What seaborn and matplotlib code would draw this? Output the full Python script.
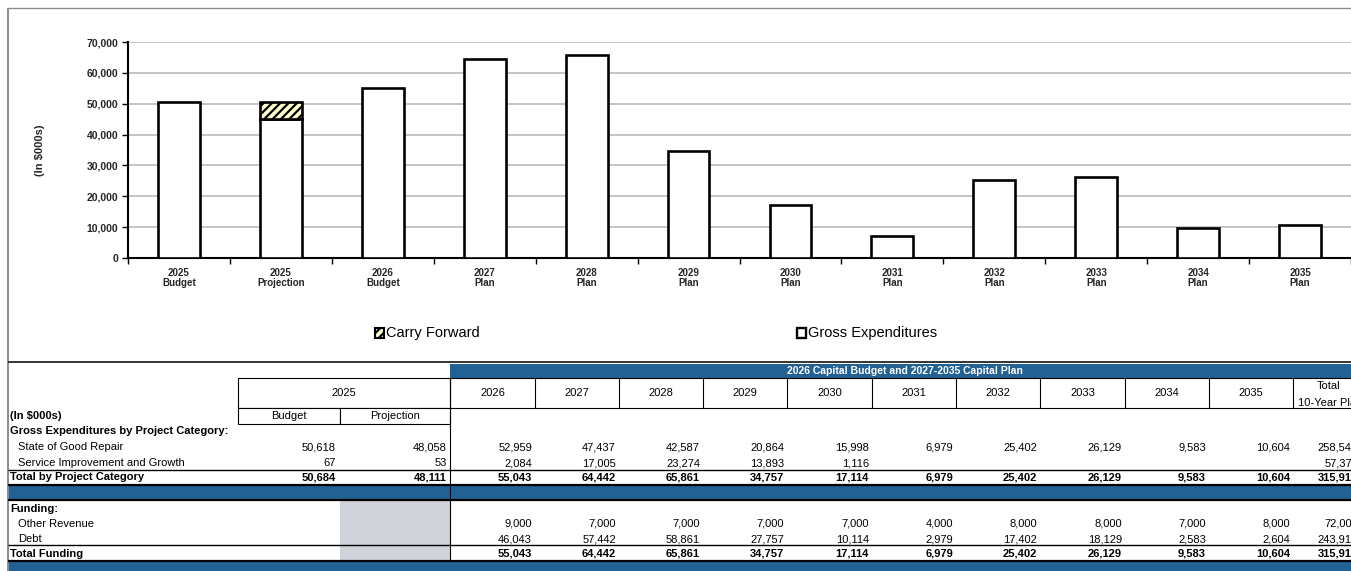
import matplotlib

matplotlib.use("Agg")
import matplotlib.pyplot as plt
import numpy as np
import pandas as pd
import seaborn as sns
from matplotlib.patches import Rectangle
from matplotlib.ticker import FuncFormatter

# chart data ($000s)
periods = ["2025\nBudget", "2025\nProjection", "2026\nBudget", "2027\nPlan", "2028\nPlan",
           "2029\nPlan", "2030\nPlan", "2031\nPlan", "2032\nPlan", "2033\nPlan",
           "2034\nPlan", "2035\nPlan"]
gross_expenditures = [50684, 45200, 55043, 64442, 65861, 34757, 17114, 6979, 25402, 26129, 9583, 10604]
carry_forward = [0, 5484, 0, 0, 0, 0, 0, 0, 0, 0, 0, 0]

# table data ($000s)
plan_years = ["2026", "2027", "2028", "2029", "2030", "2031", "2032", "2033", "2034", "2035"]
sogr_2025 = [50618, 48058]
sig_2025 = [67, 53]
total_2025 = [50684, 48111]
sogr_plan = [52959, 47437, 42587, 20864, 15998, 6979, 25402, 26129, 9583, 10604, 258542]
sig_plan = [2084, 17005, 23274, 13893, 1116, None, None, None, None, None, 57372]
total_plan = [55043, 64442, 65861, 34757, 17114, 6979, 25402, 26129, 9583, 10604, 315914]
other_revenue = [9000, 7000, 7000, 7000, 7000, 4000, 8000, 8000, 7000, 8000, 72000]
debt = [46043, 57442, 58861, 27757, 10114, 2979, 17402, 18129, 2583, 2604, 243914]
total_funding = [55043, 64442, 65861, 34757, 17114, 6979, 25402, 26129, 9583, 10604, 315914]

sns.set_theme(style="white")
plt.rcParams["font.family"] = ["Liberation Sans", "DejaVu Sans"]
plt.rcParams["hatch.linewidth"] = 1.6

W, H = 1351, 571
BLUE = "#226193"
fig = plt.figure(figsize=(W / 100, H / 100), dpi=100)

# overlay in pixel coords for frame, legend and table
ov = fig.add_axes([0, 0, 1, 1])
ov.set_xlim(0, W)
ov.set_ylim(H, 0)
ov.axis("off")


def hline(y, x0, x1, lw=0.8, color="black"):
    ov.plot([x0, x1], [y, y], color=color, lw=lw, solid_capstyle="butt")


def vline(x, y0, y1, lw=0.8, color="black"):
    ov.plot([x, x], [y0, y1], color=color, lw=lw, solid_capstyle="butt")


def txt(x, y, s, ha="left", bold=False, size=8, color="black"):
    ov.text(x, y, s, ha=ha, va="center", fontsize=size, color=color,
            fontweight="bold" if bold else "normal", clip_on=False)


def num(v):
    return "" if v is None else f"{v:,}"


# outer frame
hline(8, 8, W, lw=1.0, color="#8c8c8c")
vline(8, 8, H, lw=1.4, color="#8c8c8c")
hline(362, 8, W, lw=1.4, color="#333333")

# legend
ov.add_patch(Rectangle((375, 328), 9, 10, facecolor="#ffffcc", edgecolor="black", lw=1.5, hatch="////"))
txt(386, 333, "Carry Forward", size=10.5)
ov.add_patch(Rectangle((797, 328), 9, 10, facecolor="white", edgecolor="black", lw=1.7))
txt(808, 333, "Gross Expenditures", size=10.5)

# table header
ov.add_patch(Rectangle((450, 364), W - 450, 14, facecolor=BLUE, edgecolor="none"))
txt(905, 371, "2026 Capital Budget and 2027-2035 Capital Plan", ha="center", bold=True, size=7.5, color="white")
ov.add_patch(Rectangle((238, 378), 212, 30, facecolor="white", edgecolor="black", lw=0.8))
txt(344, 393, "2025", ha="center")
ov.add_patch(Rectangle((238, 408), 102, 16, facecolor="white", edgecolor="black", lw=0.8))
ov.add_patch(Rectangle((340, 408), 110, 16, facecolor="white", edgecolor="black", lw=0.8))
txt(289, 416, "Budget", ha="center")
txt(395, 416, "Projection", ha="center")

col_edges = [450, 535, 619, 703, 787, 872, 956, 1040, 1125, 1209, 1293, 1361]
hline(378, 450, W)
hline(408, 450, W)
for x in col_edges[:-1]:
    vline(x, 378, 408)
for i, yr in enumerate(plan_years):
    txt((col_edges[i] + col_edges[i + 1]) / 2, 393, yr, ha="center")
txt(1329, 386, "Total", ha="center")
txt(1330, 403, "10-Year Plan", ha="center")

# row labels
txt(10, 416, "(In $000s)", bold=True)
txt(10, 431, "Gross Expenditures by Project Category:", bold=True)
txt(18, 447, "State of Good Repair")
txt(18, 463, "Service Improvement and Growth")
txt(10, 477, "Total by Project Category", bold=True)
txt(10, 509, "Funding:", bold=True)
txt(18, 524, "Other Revenue")
txt(18, 539, "Debt")
txt(10, 554, "Total Funding", bold=True)

# 2025 values
right_2025 = [336, 447]
for j in range(2):
    txt(right_2025[j], 447, num(sogr_2025[j]), ha="right")
    txt(right_2025[j], 463, num(sig_2025[j]), ha="right")
    txt(right_2025[j], 477, num(total_2025[j]), ha="right", bold=True)

# plan values
for i in range(len(sogr_plan)):
    xr = col_edges[i + 1] - 3
    txt(xr, 447, num(sogr_plan[i]), ha="right")
    txt(xr, 463, num(sig_plan[i]), ha="right")
    txt(xr, 477, num(total_plan[i]), ha="right", bold=True)
    txt(xr, 524, num(other_revenue[i]), ha="right")
    txt(xr, 539, num(debt[i]), ha="right")
    txt(xr, 554, num(total_funding[i]), ha="right", bold=True)

# table rules and bands
hline(470, 8, W, lw=1.0)
hline(484.5, 8, W, lw=1.6)
ov.add_patch(Rectangle((8, 485.5), W - 8, 13.5, facecolor=BLUE, edgecolor="none"))
hline(499.5, 8, W, lw=1.6)
ov.add_patch(Rectangle((340, 500), 110, 60, facecolor="#d0d3da", edgecolor="none"))
hline(545, 8, W, lw=1.0)
hline(560.5, 8, W, lw=1.6)
ov.add_patch(Rectangle((8, 561.5), W - 8, 10, facecolor=BLUE, edgecolor="none"))
vline(450, 408, 560)

# bar chart
ax = fig.add_axes([128 / W, (H - 258) / H, (W - 128) / W, 216 / H])
ax.patch.set_alpha(0)
df = pd.DataFrame({"period": periods, "gross": gross_expenditures, "carry": carry_forward})
sns.barplot(data=df, x="period", y="gross", color="white", saturation=1, edgecolor="black",
            linewidth=1.9, width=0.41, ax=ax, zorder=3)
pos = np.arange(len(periods))
has_cf = df["carry"] > 0
ax.bar(pos[has_cf], df["carry"][has_cf], bottom=df["gross"][has_cf], width=0.41,
       color="#ffffcc", edgecolor="black", hatch="////", linewidth=1.9, zorder=3)

ax.set_ylim(0, 70000)
ax.set_xlim(-0.5, len(periods) - 0.5)
ax.set_yticks(range(0, 70001, 10000))
ax.yaxis.set_major_formatter(FuncFormatter(lambda v, p: f"{v:,.0f}"))
ax.yaxis.grid(True, color="#c4c4c4", linewidth=1.4)
ax.set_axisbelow(True)
for s in ["top", "right"]:
    ax.spines[s].set_visible(False)
for s in ["left", "bottom"]:
    ax.spines[s].set_color("black")
    ax.spines[s].set_linewidth(1.5)
ax.set_xlabel("")
ax.set_ylabel("(In $000s)", fontsize=8, fontweight="bold", labelpad=30)
ax.tick_params(axis="y", which="major", length=4, width=1, color="black", direction="out",
               left=True, labelsize=7.5, pad=3)
ax.tick_params(axis="x", which="major", length=0, labelsize=7, pad=7)
ax.set_xticks(np.arange(-0.5, len(periods)), minor=True)
ax.tick_params(axis="x", which="minor", length=4, width=1, color="black", direction="out", bottom=True)
for lab in ax.get_xticklabels() + ax.get_yticklabels():
    lab.set_fontweight("bold")
    lab.set_linespacing(1.0)

fig.savefig("out.png", dpi=100)
plt.close(fig)
